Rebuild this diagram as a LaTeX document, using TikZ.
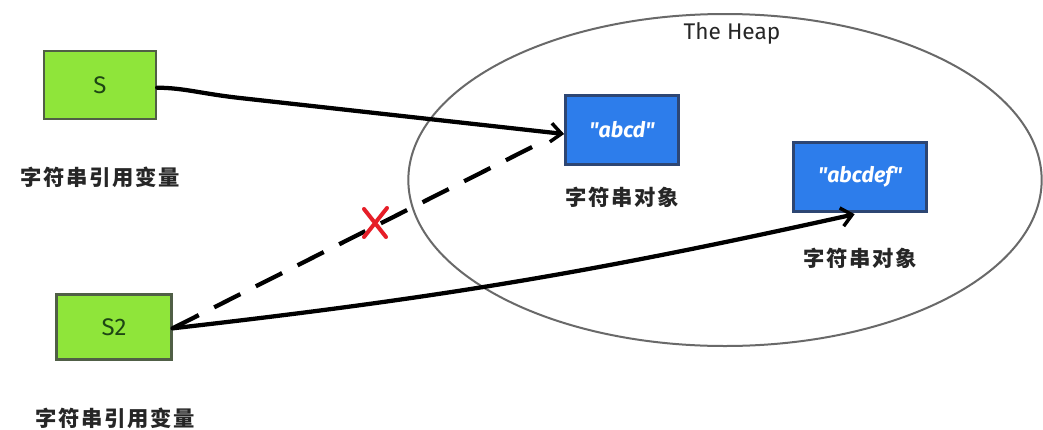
\documentclass[tikz,border=0pt]{standalone}
\usepackage{fontspec}
\setmainfont{Fira Sans}
\newfontfamily\cjk[LetterSpace=8]{Noto Sans CJK SC}
\usetikzlibrary{shapes.geometric,arrows.meta}
\definecolor{limefill}{RGB}{143,229,58}
\definecolor{greenborder}{RGB}{80,95,70}
\definecolor{darkgreen}{RGB}{30,70,20}
\definecolor{bluefill}{RGB}{45,125,235}
\definecolor{blueborder}{RGB}{45,70,115}
\definecolor{heapline}{RGB}{105,105,105}
\definecolor{crossred}{RGB}{230,30,40}
\begin{document}
\begin{tikzpicture}[x=0.75pt,y=-0.75pt,
  greenbox/.style={draw=greenborder, fill=limefill, line width=1.8pt, inner sep=0pt,
    text=darkgreen, font=\fontsize{18}{20}\selectfont},
  bluebox/.style={draw=blueborder, fill=bluefill, line width=1.8pt, inner sep=0pt,
    text=white, font=\bfseries\fontsize{16}{18}\selectfont\itshape},
  cjklabel/.style={font=\cjk\bfseries\fontsize{16}{18}\selectfont, text=black!85, inner sep=0pt},
  refarrow/.style={line width=3.2pt, black, line cap=round,
    -{Straight Barb[length=8pt,width=14pt,line width=2.6pt]}},
  deadref/.style={line width=3.2pt, black, dash pattern=on 22pt off 13pt},
]
\useasboundingbox (0,0) rectangle (1043,429);
\fill[white] (0,0) rectangle (1043,429);

% heap
\node[ellipse, draw=heapline, line width=1.5pt, minimum width=475pt, minimum height=249pt, inner sep=0pt] (heap) at (725,180) {};
\node[font=\fontsize{17}{19}\selectfont, text=black!85] (heaplabel) at (732,33) {The Heap};

% reference variables
\node[greenbox, minimum width=84pt, minimum height=51pt] (S) at (100,85) {S};
\node[cjklabel] (lblS) at (100,177) {字符串引用变量};
\node[greenbox, minimum width=86pt, minimum height=49pt] (S2) at (114,327) {S2};
\node[cjklabel] (lblS2) at (115,418) {字符串引用变量};

% string objects
\node[bluebox, minimum width=85pt, minimum height=52pt] (abcd) at (622,130) {\textquotedbl abcd\textquotedbl};
\node[cjklabel] (lblA) at (622,197) {字符串对象};
\node[bluebox, minimum width=100pt, minimum height=52pt] (abcdef) at (860,177) {\textquotedbl abcdef\textquotedbl};
\node[cjklabel] (lblB) at (860,258) {字符串对象};

% connectors
\coordinate (dashend) at (540,143);
\draw[deadref] ([yshift=-1pt]S2.east) -- (dashend);
\draw[refarrow] ([yshift=-2pt]S.east) .. controls (185,88) and (200,93.5) .. (240,98)
  -- ([yshift=-3pt]abcd.west);
\draw[refarrow] ([yshift=-1pt]S2.east) to[bend right=3] ([xshift=-4pt,yshift=-1pt]abcdef.south);

% red cross
\draw[crossred, line width=3pt, line cap=round] (364,209) -- (386,237) (387,208) -- (364,237);
\end{tikzpicture}
\end{document}
